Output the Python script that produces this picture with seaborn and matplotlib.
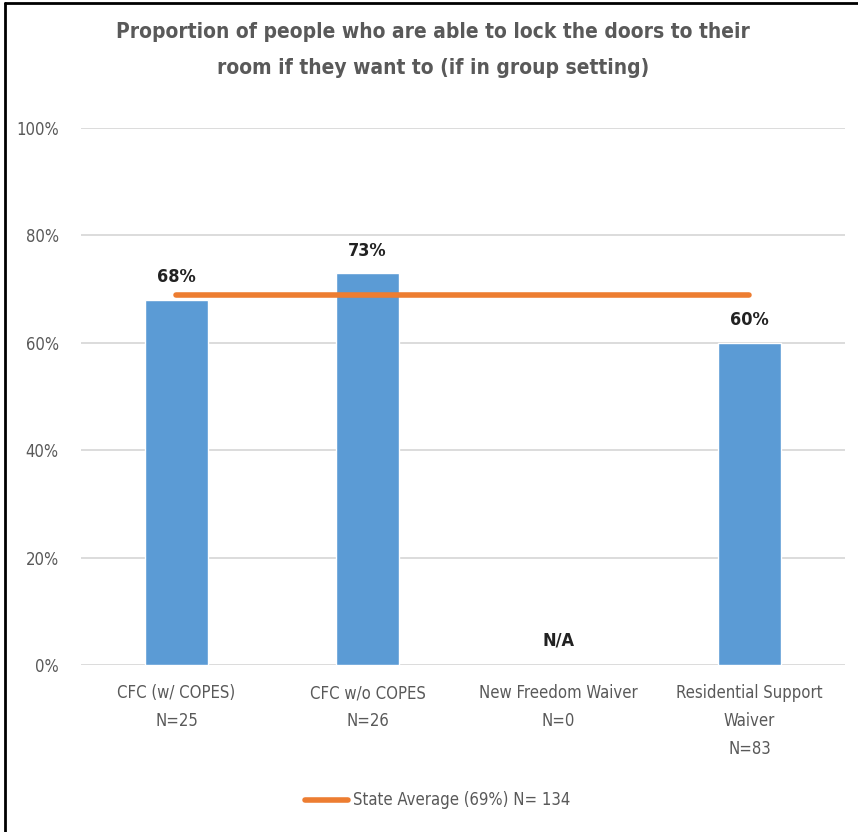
import numpy as np
import pandas as pd
import seaborn as sns
import matplotlib.pyplot as plt
from matplotlib.lines import Line2D

# data
categories = ["CFC (w/ COPES)", "CFC w/o COPES", "New Freedom Waiver", "Residential Support\nWaiver"]
n_counts = [25, 26, 0, 83]
values = [68, 73, np.nan, 60]      # percent, N/A for New Freedom Waiver
state_avg = 69
state_n = 134

BAR = "#5B9BD5"
LINE = "#ED7D31"
GREY = "#595959"

sns.set_theme(style="white")
plt.rcParams['font.family'] = ['Liberation Sans Narrow', 'DejaVu Sans']
plt.rcParams['font.stretch'] = 'condensed'

labels = [f"{c}\nN={n}" for c, n in zip(categories, n_counts)]
df = pd.DataFrame({"group": labels, "pct": [v / 100 for v in values]})

fig = plt.figure(figsize=(8.58, 8.32), dpi=100)
ax = fig.add_axes([0.0944, 0.2007, 0.8904, 0.6454])

sns.barplot(data=df, x="group", y="pct", color=BAR, width=0.33, saturation=1, ax=ax)

# state average line from first to last category
xs = [0, len(categories) - 1]
ax.plot(xs, [state_avg / 100] * 2, color=LINE, lw=4, solid_capstyle="round", zorder=4)

for i, v in enumerate(values):
    if np.isnan(v):
        ax.text(i, 0.045, "N/A", ha="center", va="center", fontsize=13, fontweight="bold", color="#222222")
    else:
        ax.text(i, v / 100 + 0.025, f"{v:.0f}%", ha="center", va="bottom", fontsize=13,
                fontweight="bold", color="#222222", zorder=5)

ax.set_ylim(0, 1)
ax.set_xlim(-0.5, len(categories) - 0.5)
ticks = np.arange(0, 1.01, 0.2)
ax.set_yticks(ticks)
ax.set_yticklabels([f"{round(t * 100)}%" for t in ticks])
ax.yaxis.grid(True, color="#D9D9D9", lw=1.3)
ax.set_axisbelow(True)
for s in ax.spines.values():
    s.set_visible(False)
ax.tick_params(axis="both", length=0, colors=GREY, labelsize=12)
ax.tick_params(axis="x", pad=14)
ax.tick_params(axis="y", pad=16)
for t in ax.get_xticklabels():
    t.set_linespacing(1.7)
ax.set_xlabel("")
ax.set_ylabel("")

fig.text(0.505, 0.94, "Proportion of people who are able to lock the doors to their\nroom if they want to (if in group setting)",
         ha="center", va="center", fontsize=15, fontweight="bold", color=GREY, linespacing=2.05)

handle = Line2D([], [], color=LINE, lw=4)
fig.legend([handle], [f"State Average ({state_avg}%) N= {state_n}"], loc="center",
           bbox_to_anchor=(0.51, 0.038), frameon=False, fontsize=12, handlelength=2.6,
           handletextpad=0.3, labelcolor=GREY)

# outer frame like the reference screenshot
fig.add_artist(Line2D([5 / 858, 5 / 858], [0, 1 - 3 / 832], color="black", lw=2))
fig.add_artist(Line2D([5 / 858, 1], [1 - 3 / 832, 1 - 3 / 832], color="black", lw=2))

fig.savefig("out.png", dpi=100)
